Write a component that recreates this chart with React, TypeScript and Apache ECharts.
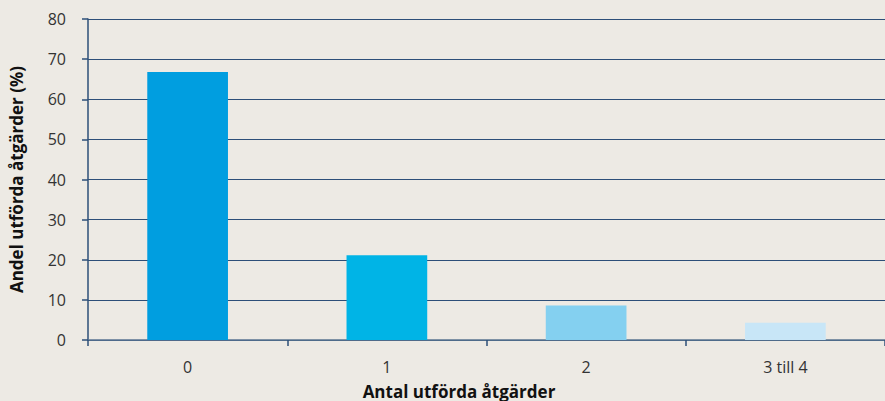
import React, { useEffect, useRef } from "react";
import * as echarts from "echarts";

const categories = ["0", "1", "2", "3 till 4"];
const values = [66.8, 21.1, 8.6, 4.3];
const barColors = ["#009ee0", "#00b4e6", "#84d0f0", "#c8e6f7"];
const yTicks = { min: 0, max: 80, interval: 10 };

export default function App() {
  const ref = useRef<HTMLDivElement>(null);
  useEffect(() => {
    if (!ref.current) return;
    const chart = echarts.init(ref.current, undefined, { renderer: "svg" });
    const font = "'Open Sans', 'Noto Sans', sans-serif";
    chart.setOption({
      animation: false,
      backgroundColor: "#edeae4",
      grid: { left: 88, top: 19, width: 801, height: 321, containLabel: false },
      xAxis: {
        type: "category",
        data: categories,
        axisLine: { show: true, lineStyle: { color: "#5a7491", width: 1.5 } },
        axisTick: { show: true, alignWithLabel: false, length: 6, lineStyle: { color: "#2d4f78", width: 1.5 } },
        axisLabel: { color: "#333", fontSize: 16, fontFamily: font, margin: 19 },
        splitLine: { show: false },
      },
      yAxis: {
        type: "value",
        min: yTicks.min,
        max: yTicks.max,
        interval: yTicks.interval,
        name: "Andel utförda åtgärder (%)",
        nameLocation: "middle",
        nameGap: 63,
        nameTextStyle: { color: "#111", fontSize: 17, fontWeight: "bold", fontFamily: font },
        axisLine: { show: true, lineStyle: { color: "#2d4f78", width: 1.5 } },
        axisTick: { show: true, length: 6, lineStyle: { color: "#2d4f78", width: 1.5 } },
        axisLabel: { color: "#333", fontSize: 16, fontFamily: font, margin: 22 },
        splitLine: { show: true, lineStyle: { color: "#2d4f78", width: 1.2 } },
      },
      series: [
        {
          type: "bar",
          data: values.map((v, i) => ({ value: v, itemStyle: { color: barColors[i] } })),
          barWidth: "40.5%",
        },
      ],
      graphic: [
        {
          type: "text",
          x: 459,
          y: 391,
          style: {
            text: "Antal utförda åtgärder",
            fill: "#111",
            font: `bold 17px ${font}`,
            textAlign: "center",
            textVerticalAlign: "middle",
          },
        },
      ],
    });
    return () => chart.dispose();
  }, []);
  return <div ref={ref} style={{ width: 885, height: 401, position: "absolute", left: 0, top: 0 }} />;
}
